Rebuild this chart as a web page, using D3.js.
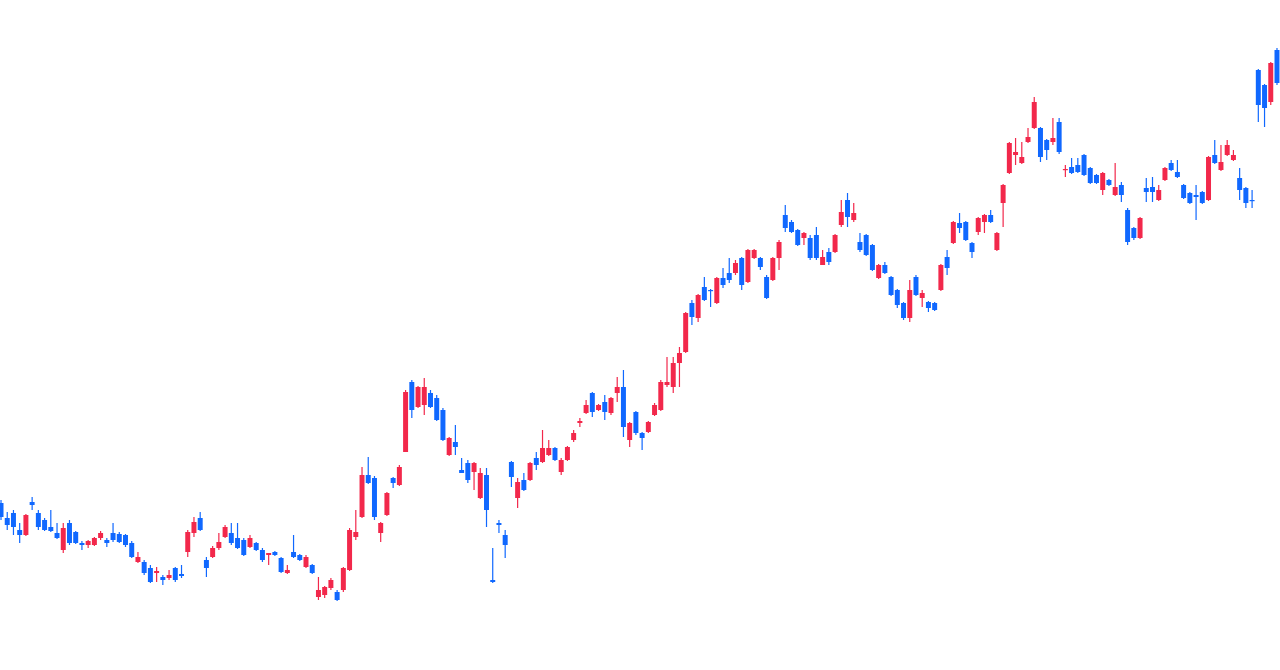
<html>
<script src="https://d3js.org/d3.v7.min.js"></script>
<body style="margin:0;background:#fff">
<svg></svg>
<script>
    const width = 1280;
    const height = 670;

    // daily prices, oldest first
    const open = [197,182,187,170,165,198,187,180,173,167,
        150,177,168,157,155,155,162,160,167,
        166,165,157,138,138,132,127,123,122,132,
        126,148,167,182,140,143,152,163,167,162,
        160,153,157,150,145,148,142,127,148,145,
        133,135,103,105,112,108,110,130,163,183,
        225,222,167,185,222,215,248,318,293,295,
        307,302,290,245,258,230,237,228,202,225,
        120,177,165,238,202,220,220,242,238,245,
        252,228,240,260,277,287,307,290,298,287,
        307,313,260,288,267,268,285,290,315,313,
        337,348,397,382,413,410,397,422,427,427,
        442,418,442,442,423,420,442,485,478,470,
        462,462,465,435,448,448,475,500,480,458,
        465,455,422,435,423,410,397,382,423,402,
        398,397,410,443,457,477,478,457,468,478,
        485,450,497,527,545,537,558,572,572,560,
        558,578,530,533,535,545,532,525,510,520,
        505,515,490,472,462,512,513,500,520,537,
        528,515,507,505,508,500,545,530,545,540,
        522,512,500,630,615,598,650];
    const close = [183,175,173,165,185,195,173,170,169,162,
        172,157,157,155,159,162,167,157,160,
        158,155,143,143,127,118,129,120,125,120,
        124,168,178,170,132,152,158,173,157,152,
        145,162,150,140,147,145,128,130,143,140,
        143,127,110,113,120,100,132,170,168,225,
        217,183,177,207,217,233,308,290,313,313,
        293,280,260,262,253,227,220,237,227,190,
        118,175,155,223,218,210,237,235,252,252,
        240,240,253,267,279,295,288,295,288,302,
        313,273,277,267,262,278,295,318,318,337,
        347,387,383,405,400,409,422,415,420,437,
        415,450,450,433,402,442,458,472,468,455,
        467,442,442,443,438,465,488,483,487,450,
        445,430,435,427,405,395,382,410,405,407,
        392,390,435,432,478,472,460,448,482,485,
        478,467,515,557,548,543,563,598,543,550,
        562,548,531,527,528,525,517,517,527,515,
        513,505,458,462,482,508,508,510,532,530,
        523,502,497,503,497,543,537,538,555,545,
        510,497,499,595,592,637,617];
    const high = [200,188,190,177,186,203,190,182,190,177,
        177,180,169,159,160,163,169,162,177,
        168,166,159,148,140,135,133,125,130,133,
        135,170,183,188,143,154,167,175,177,177,
        162,165,158,152,147,149,143,135,165,146,
        145,136,123,114,122,110,133,172,190,233,
        243,224,178,208,223,235,310,320,314,322,
        310,305,292,263,275,242,240,238,232,232,
        152,180,170,239,222,227,238,248,270,260,
        253,242,254,270,282,300,308,296,305,303,
        323,330,278,289,268,279,297,320,343,343,
        353,388,400,406,423,411,423,432,442,440,
        443,451,451,443,425,443,460,495,480,471,
        468,465,473,450,452,466,500,507,497,467,
        466,456,436,438,424,411,398,420,425,410,
        399,398,436,450,479,487,479,458,483,486,
        490,468,516,558,562,558,572,603,573,561,
        582,582,535,542,542,546,533,526,528,521,
        537,518,492,473,483,522,523,515,533,540,
        540,516,508,515,509,544,560,555,560,550,
        532,513,510,631,616,638,652];
    const low = [180,170,165,157,164,190,170,169,168,161,
        147,155,156,150,152,154,160,153,158,
        157,153,142,137,125,117,118,115,120,118,
        122,143,163,169,123,142,150,162,155,151,
        144,152,149,138,135,144,127,126,142,139,
        132,126,100,102,110,99,108,129,160,182,
        216,180,158,184,212,214,248,282,292,285,
        292,279,259,244,245,227,217,210,201,173,
        117,167,142,213,192,209,219,230,237,244,
        239,225,239,258,273,286,283,289,280,285,
        298,263,253,265,250,267,284,289,313,307,
        313,347,375,378,399,393,396,412,417,425,
        410,417,441,430,401,419,430,468,467,454,
        455,440,440,435,435,447,473,473,478,448,
        444,429,421,426,404,392,380,378,404,393,
        388,389,409,425,456,467,459,442,465,467,
        477,449,473,526,535,536,557,571,538,540,
        555,546,523,526,527,524,516,516,505,514,
        504,498,455,460,461,498,498,499,519,529,
        522,501,496,480,496,499,536,529,544,539,
        500,492,492,578,573,595,615];

    const days = d3.range(open.length);
    const upColor = '#f2284b';
    const downColor = '#1068ff';

    const candles = days.map(i => ({
        day: i,
        open: open[i],
        close: close[i],
        high: Math.max(high[i], open[i], close[i]),
        low: Math.min(low[i], open[i], close[i])
    }));

    const svg = d3.select('svg')
        .attr('width', width).attr('height', height);

    const x = d3.scaleBand()
        .domain(days)
        .range([-2.1, 1280.1])
        .paddingInner(0.2)
        .paddingOuter(0.1);

    const y = d3.scaleLinear()
        .domain([100, 650])
        .range([600, 50]);

    const color = d => d.close >= d.open ? upColor : downColor;

    const g = svg.append('g').selectAll('g')
        .data(candles)
        .enter().append('g');

    // wick
    g.append('line')
        .attr('x1', d => x(d.day) + x.bandwidth() / 2)
        .attr('x2', d => x(d.day) + x.bandwidth() / 2)
        .attr('y1', d => y(d.high))
        .attr('y2', d => y(d.low))
        .attr('stroke', color)
        .attr('stroke-width', 1.2);

    // body
    g.append('rect')
        .attr('x', d => x(d.day))
        .attr('width', x.bandwidth())
        .attr('y', d => y(Math.max(d.open, d.close)))
        .attr('height', d => Math.max(1.2, Math.abs(y(d.open) - y(d.close))))
        .attr('fill', color);
</script>
</body>
</html>
